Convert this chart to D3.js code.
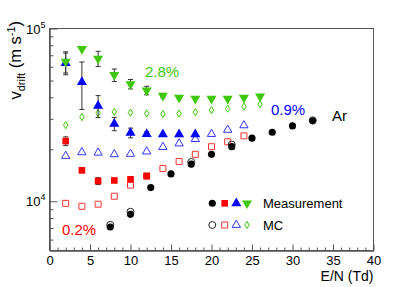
<!DOCTYPE html>
<html>
<head>
<meta charset="utf-8">
<script src="https://cdn.jsdelivr.net/npm/d3@7"></script>
<style>
body { margin: 0; background: #fff; }
svg { font-family: "Liberation Sans", Arial, sans-serif; }
</style>
</head>
<body>
<div class="chart"></div>
<script>
// values
var xEven = [2, 4, 6, 8, 10, 12, 14, 16, 18, 20, 22, 24, 26]
var measGreen = [64300, 76200, 67000, 53800, 47700, 43800, 40900, 39800, 39200, 39300, 39300, 39800, 40400]
var errGreen = [9000, 0, 6800, 4500, 3000, 2500, 1200, 0, 0, 0, 0, 0, 0]
var mcGreen = [27600, 30700, 32400, 32900, 32600, 32200, 32000, 32200, 32800, 33700, 34400, 35300, 36500]

var xBlueMeas = [2, 4, 6, 8, 10, 12, 14, 16, 18]
var measBlue = [63000, 49000, 35700, 28100, 24900, 24500, 24400, 24400, 24400]
var errBlue = [9000, 15000, 5200, 2500, 1600, 800, 0, 0, 0]
var xBlueMC = [2, 4, 6, 8, 10, 12, 14, 16, 18, 20, 22, 24]
var mcBlue = [18300, 19200, 19100, 18700, 18800, 19400, 20600, 21600, 22900, 24500, 25900, 27500]

var xRedMeas = [2, 4, 6, 8, 10, 12]
var measRed = [22300, 15100, 13100, 13200, 13400, 14000]
var errRed = [1300, 0, 600, 0, 0, 0]
var xRedMC = [2, 4, 6, 8, 10, 12, 14, 16, 18, 20, 22, 24]
var mcRed = [9730, 9360, 9620, 10700, 12400, 14000, 15500, 17000, 18700, 20700, 22100, 23900]

var xAr = [7.5, 10, 12.5, 15, 17.5, 20, 22.5, 25, 27.5, 30, 32.5]
var measAr = [7100, 8400, 12000, 14400, 16400, 18700, 20700, 23200, 25100, 27300, 29200]
var xArMC = [7.5, 10, 17.5, 22.5, 32.5]
var mcAr = [7300, 8700, 16900, 21300, 29400]

var xTicks = [0, 5, 10, 15, 20, 25, 30, 35, 40]
var yMajor = [1e4, 1e5]
var yMinor = [6000, 7000, 8000, 9000, 20000, 30000, 40000, 50000, 60000, 70000, 80000, 90000]

var green = "#3fc80a", blue = "#0000ff", blueOpen = "#3333ff", red = "#ff0000", redOpen = "#ff3333"

var W = 415, H = 287
var svg = d3.select(".chart").append("svg")
    .attr("width", W)
    .attr("height", H)

var x = d3.scaleLinear().domain([0, 40]).range([49.5, 373.5])
var y = d3.scaleLog().domain([5190, 1e5]).range([250.5, 28.5])

function zip(xs, ys, es) {
    return xs.map(function(v, i) { return {x: v, y: ys[i], e: es ? es[i] : 0} })
}

// frame
svg.append("rect")
    .attr("x", x(0)).attr("y", y(1e5))
    .attr("width", x(40) - x(0)).attr("height", y.range()[0] - y(1e5))
    .attr("fill", "none").attr("stroke", "#555").attr("stroke-width", 1)

// x axis, ticks pointing inward
var xMinor = d3.range(0, 41).filter(function(v) { return v % 5 !== 0 })
svg.append("g")
    .attr("transform", "translate(0," + y.range()[0] + ")")
    .call(d3.axisBottom(x).tickValues(xMinor).tickSize(-3).tickSizeOuter(0).tickFormat(""))
svg.append("g")
    .attr("class", "x-axis")
    .attr("transform", "translate(0," + y.range()[0] + ")")
    .call(d3.axisBottom(x).tickValues(xTicks).tickSize(-6).tickSizeOuter(0).tickFormat(d3.format("d")))
    .selectAll("text")
    .attr("y", 5)
    .attr("dy", "0.71em")
    .style("font-size", "13px")
    .style("font-family", "Liberation Sans, Arial, sans-serif")
    .attr("fill", "#000")

// y axis
svg.append("g")
    .attr("transform", "translate(" + x(0) + ",0)")
    .call(d3.axisLeft(y).tickValues(yMinor).tickSize(-4).tickSizeOuter(0).tickFormat(""))
svg.append("g")
    .attr("transform", "translate(" + x(0) + ",0)")
    .call(d3.axisLeft(y).tickValues(yMajor).tickSize(-8).tickSizeOuter(0).tickFormat(""))
svg.selectAll(".domain").attr("stroke", "#555")
svg.selectAll(".tick line").attr("stroke", "#555")

yMajor.forEach(function(v) {
    var t = svg.append("text")
        .attr("x", 26)
        .attr("y", y(v) + 5)
        .style("font-size", "13px")
    t.append("tspan").text("10")
    t.append("tspan").attr("dy", -6).style("font-size", "9px").text(Math.round(Math.log10(v)))
})

// axis titles
svg.append("text")
    .attr("x", x(40)).attr("y", 281)
    .attr("text-anchor", "end")
    .style("font-size", "14px")
    .text("E/N (Td)")

var yt = svg.append("text")
    .attr("transform", "translate(21,21) rotate(-90)")
    .attr("text-anchor", "end")
    .style("font-size", "16.5px")
yt.append("tspan").text("v")
yt.append("tspan").attr("dy", 4).style("font-size", "11px").text("drift")
yt.append("tspan").attr("dy", -4).text(" (m s")
yt.append("tspan").attr("dy", -6).style("font-size", "11px").text("-1")
yt.append("tspan").attr("dy", 6).text(")")

// markers
var plot = svg.append("g")

function errorBars(data, col) {
    var g = plot.append("g")
    var d = data.filter(function(p) { return p.e > 0 })
    g.selectAll("line.bar").data(d).enter().append("line")
        .attr("x1", function(p) { return x(p.x) }).attr("x2", function(p) { return x(p.x) })
        .attr("y1", function(p) { return y(p.y + p.e) }).attr("y2", function(p) { return y(p.y - p.e) })
        .attr("stroke", col)
    ;[1, -1].forEach(function(s) {
        g.selectAll("line.cap" + s).data(d).enter().append("line")
            .attr("x1", function(p) { return x(p.x) - 2.5 }).attr("x2", function(p) { return x(p.x) + 2.5 })
            .attr("y1", function(p) { return y(p.y + s * p.e) }).attr("y2", function(p) { return y(p.y + s * p.e) })
            .attr("stroke", col)
    })
}

function markers(data, type, size, fill, stroke) {
    plot.append("g").selectAll("path").data(data).enter().append("path")
        .attr("transform", function(p) {
            var r = type === "down" ? 180 : 0
            return "translate(" + x(p.x) + "," + y(p.y) + ") rotate(" + r + ")"
        })
        .attr("d", d3.symbol().type(type === "down" ? d3.symbolTriangle : type).size(size))
        .attr("fill", fill)
        .attr("stroke", stroke)
        .attr("stroke-width", 1)
}

var diamond = {
    draw: function(ctx, size) {
        var w = 2.2, h = 3.6
        ctx.moveTo(0, -h); ctx.lineTo(w, 0); ctx.lineTo(0, h); ctx.lineTo(-w, 0); ctx.closePath()
    }
}

// MC (open)
markers(zip(xRedMC, mcRed), d3.symbolSquare, 36, "none", redOpen)
markers(zip(xBlueMC, mcBlue), d3.symbolTriangle, 30, "none", blueOpen)
markers(zip(xEven, mcGreen), diamond, 20, "none", green)

// measurement (filled)
errorBars(zip(xRedMeas, measRed, errRed), "#333")
markers(zip(xRedMeas, measRed), d3.symbolSquare, 44, red, "none")
errorBars(zip(xBlueMeas, measBlue, errBlue), "#333")
markers(zip(xBlueMeas, measBlue), d3.symbolTriangle, 44, blue, "none")
errorBars(zip(xEven, measGreen, errGreen), "#333")
markers(zip(xEven, measGreen), "down", 44, green, "none")

markers(zip(xAr, measAr), d3.symbolCircle, 40, "#000", "none")
markers(zip(xArMC, mcAr), d3.symbolCircle, 38, "none", "#222")

// annotations
svg.append("text").attr("x", 145).attr("y", 77).attr("fill", green).style("font-size", "15px").text("2.8%")
svg.append("text").attr("x", 271).attr("y", 115).attr("fill", blue).style("font-size", "15px").text("0.9%")
svg.append("text").attr("x", 332).attr("y", 121).attr("fill", "#000").style("font-size", "15px").text("Ar")
svg.append("text").attr("x", 62).attr("y", 235).attr("fill", red).style("font-size", "15px").text("0.2%")

// legend
var legX = [212.3, 224.7, 236.3, 247]
var leg = svg.append("g")
function legMark(cx, cy, type, size, fill, stroke, rot) {
    leg.append("path")
        .attr("transform", "translate(" + cx + "," + cy + ") rotate(" + (rot || 0) + ")")
        .attr("d", d3.symbol().type(type).size(size))
        .attr("fill", fill).attr("stroke", stroke)
}
legMark(legX[0], 203.3, d3.symbolCircle, 40, "#000", "none")
legMark(legX[1], 203.3, d3.symbolSquare, 44, red, "none")
legMark(legX[2], 203.3, d3.symbolTriangle, 44, blue, "none")
legMark(legX[3], 203.3, d3.symbolTriangle, 44, green, "none", 180)
legMark(legX[0], 225, d3.symbolCircle, 38, "none", "#222")
legMark(legX[1], 225, d3.symbolSquare, 36, "none", redOpen)
legMark(legX[2], 225, d3.symbolTriangle, 30, "none", blueOpen)
legMark(legX[3], 225, diamond, 20, "none", green)
svg.append("text").attr("x", 263).attr("y", 208).style("font-size", "13px").text("Measurement")
svg.append("text").attr("x", 263).attr("y", 230).style("font-size", "13px").text("MC")
</script>
</body>
</html>
